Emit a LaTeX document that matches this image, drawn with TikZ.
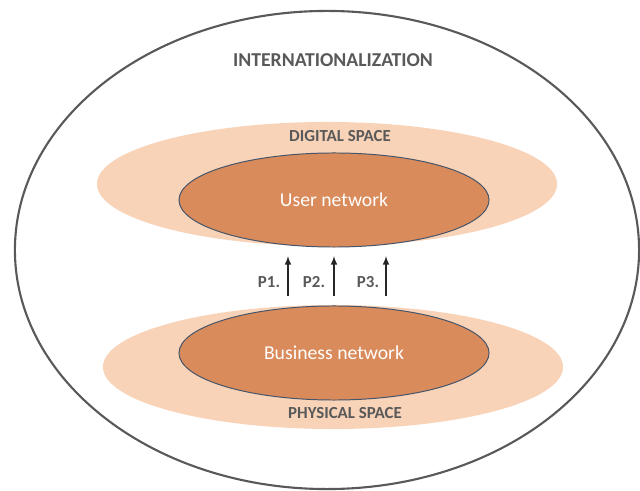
\documentclass[tikz,border=0pt]{standalone}
\usepackage{fontspec}
\setmainfont{Carlito}
\usepackage{tikz}
\usetikzlibrary{arrows,shapes}

\definecolor{peach}{HTML}{F8D3B8}
\definecolor{rust}{HTML}{D98B5B}
\definecolor{rim}{HTML}{44546A}
\definecolor{ink}{HTML}{595959}

\tikzset{
  space/.style={ellipse, fill=peach, draw=none, inner sep=0pt},
  network/.style={ellipse, fill=rust, draw=rim, line width=0.7pt, inner sep=0pt,
    text=white, font=\fontsize{14}{16}\selectfont},
  label/.style={text=ink, font=\bfseries\fontsize{12}{14}\selectfont},
  flow/.style={-latex, line width=1.1pt, color=black!85}
}

\begin{document}
\begin{tikzpicture}[x=0.025cm, y=-0.025cm]
   \useasboundingbox (0,0) rectangle (640,491);
   % Frame
   \node[ellipse, draw=ink, line width=1.5pt, minimum width=15.6cm, minimum height=11.95cm] (world) at (327,250) {};
   \node[text=ink, font=\bfseries\fontsize{14}{16}\selectfont] (intl) at (333,60) {INTERNATIONALIZATION};
   % Spaces
   \node[space, minimum width=11.5cm, minimum height=3.1cm] (digital) at (327,184) {};
   \node[space, minimum width=11.5cm, minimum height=3.1cm] (physical) at (333,367) {};
   \node[label] (dlabel) at (340,136) {DIGITAL SPACE};
   \node[label] (plabel) at (345,413) {PHYSICAL SPACE};
   % Networks
   \node[network, minimum width=7.75cm, minimum height=2.35cm] (user) at (334,200) {User network};
   \node[network, minimum width=7.75cm, minimum height=2.35cm] (business) at (334,353) {Business network};
   % Paths
   \coordinate (s1) at (288,296); \coordinate (e1) at (288,256);
   \coordinate (s2) at (334,296); \coordinate (e2) at (334,256);
   \coordinate (s3) at (386,296); \coordinate (e3) at (386,256);
   \draw[flow] (s1) -- (e1);
   \draw[flow] (s2) -- (e2);
   \draw[flow] (s3) -- (e3);
   \node[label, text=ink] (p1) at (269,282) {P1.};
   \node[label, text=ink] (p2) at (314,282) {P2.};
   \node[label, text=ink] (p3) at (368,282) {P3.};
\end{tikzpicture}
\end{document}
